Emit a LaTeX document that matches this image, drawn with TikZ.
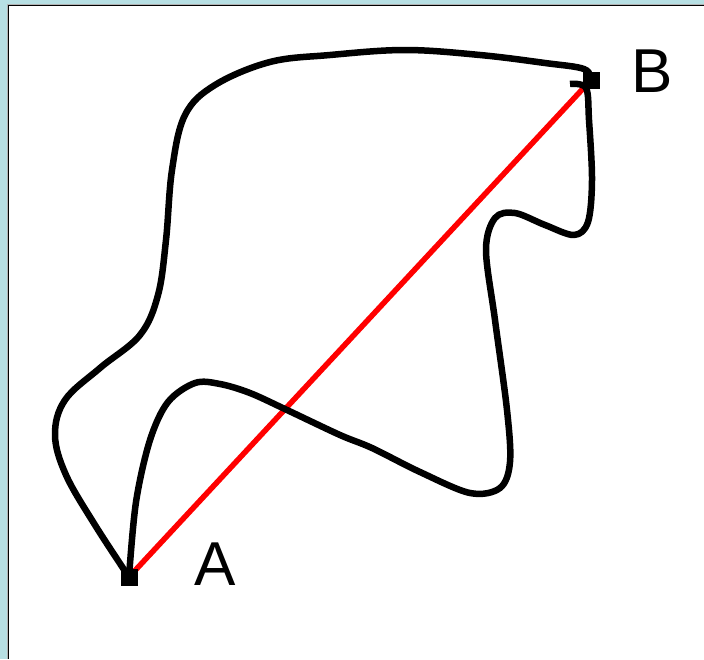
\documentclass[tikz,border=0pt]{standalone}
\usepackage{fontspec}
\setmainfont{Liberation Sans}
\usetikzlibrary{positioning}
\definecolor{framebg}{HTML}{B7DFE3}
\definecolor{pathred}{HTML}{FF0000}

\begin{document}
\begin{tikzpicture}[x=1pt,y=-1pt]
  \useasboundingbox (0,0) rectangle (704,659);
  \fill[framebg] (0,0) rectangle (704,659);
  \fill[gray!60] (7,4) rectangle (704,659);
  \fill[white] (8.5,5.5) rectangle (704,659);
  \draw[black,line width=1pt] (8,659) -- (8,5) -- (704,5);
  % end points
  \coordinate (A) at (129,577);
  \coordinate (B) at (591,80);
  % straight red line
  \draw[pathred,line width=5.5pt] (A) -- (B);
  % outer wiggly path
  \draw[line width=6.5pt,line join=round] plot[smooth,tension=0.6] coordinates {
    (A) (95,525) (66,475) (55,435) (65,400) (100,368) (140,335) (158,295)
    (166,240) (172,170) (185,115) (215,85) (270,62) (330,55) (405,50)
    (480,55) (545,63) (584,69) (B)};
  % inner wiggly path
  \draw[line width=6.5pt,line join=round] plot[smooth,tension=0.55] coordinates {
    (A) (136,502) (150,440) (168,402) (195,383) (220,384) (250,393)
    (287,410) (340,435) (372,448) (420,472) (470,493) (500,488) (510,462)
    (507,410) (495,320) (486,250) (495,218) (515,213) (545,225) (574,235)
    (588,222) (592,180) (589,120) (586,88) (570,84)};
  \fill (A) ++(-8.5,-8.5) rectangle ++(17,17);
  \fill (B) ++(-8.5,-8.5) rectangle ++(17,17);
  % labels
  \node[anchor=base west,font=\fontsize{62}{62}\selectfont,inner sep=0pt] (labA) at (194,585) {A};
  \node[anchor=base west,font=\fontsize{62}{62}\selectfont,inner sep=0pt] (labB) at (631,92) {B};
\end{tikzpicture}
\end{document}
